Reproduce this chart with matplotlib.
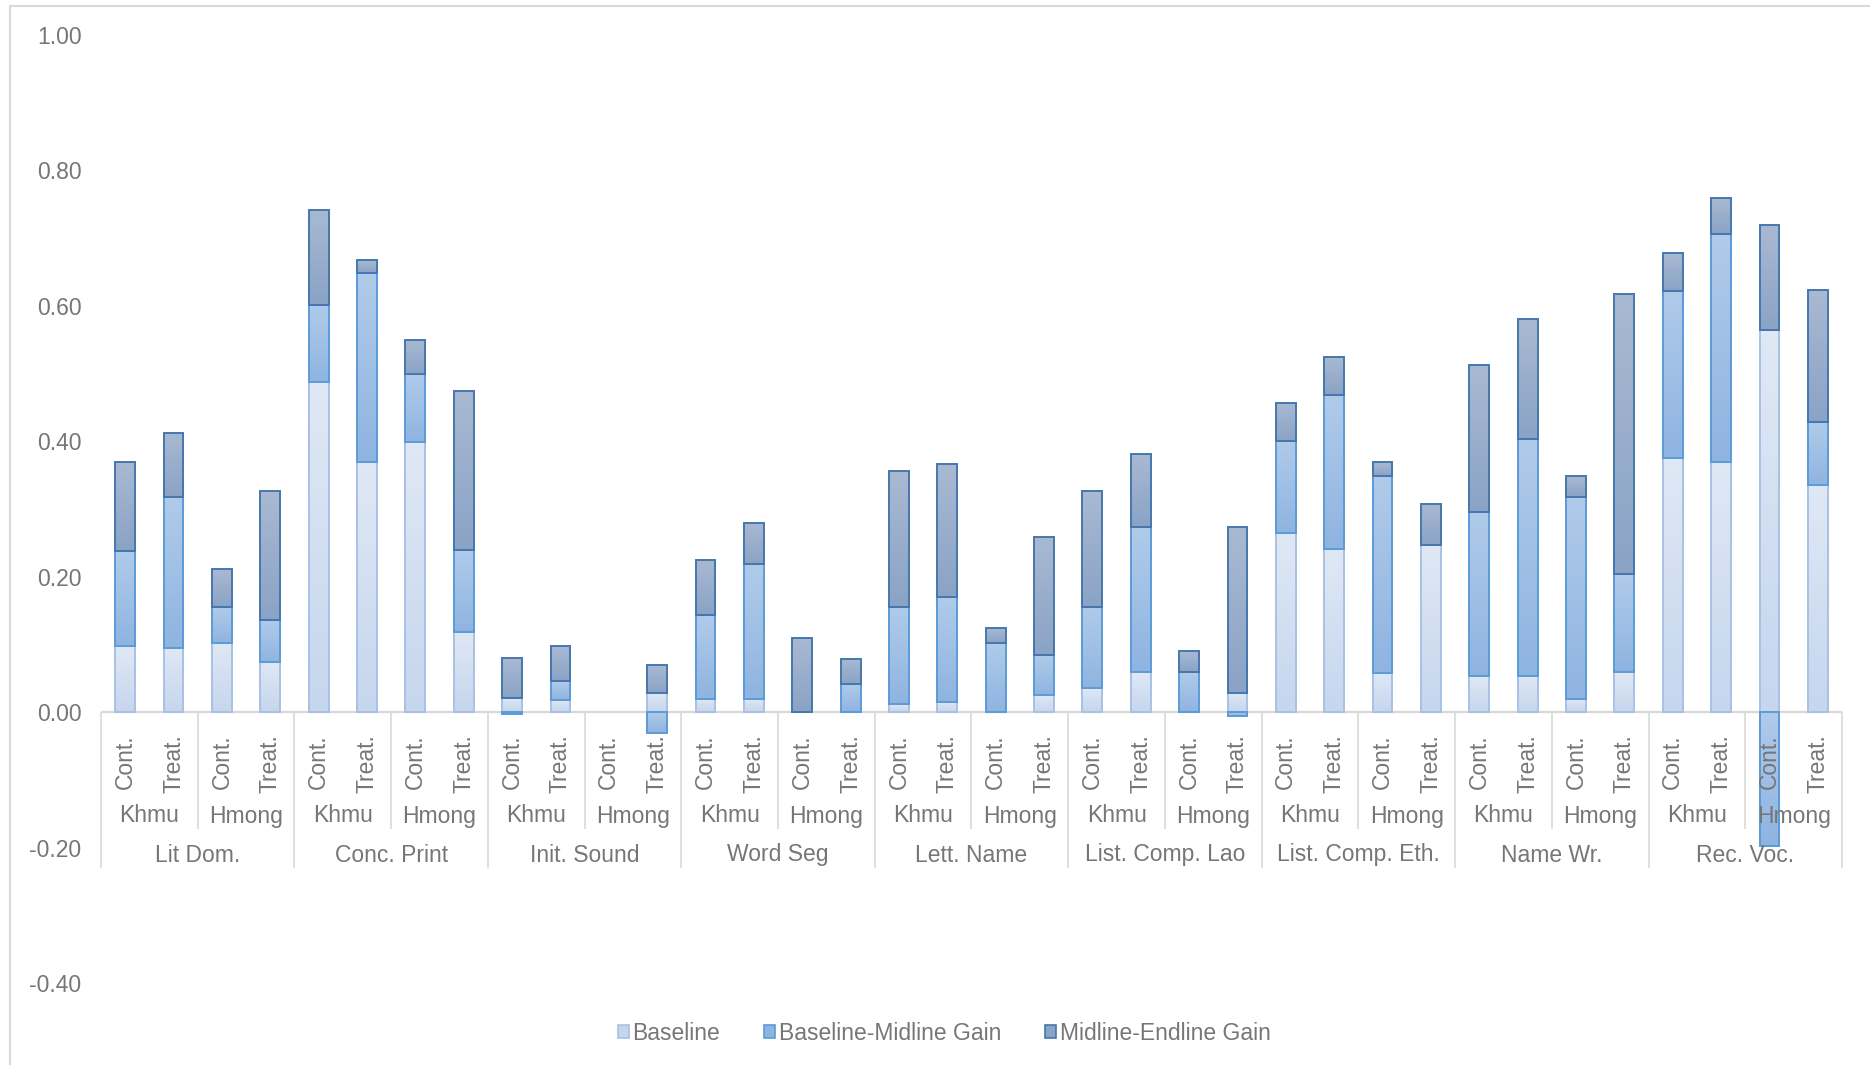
import numpy as np
import matplotlib
matplotlib.use('Agg')
import matplotlib.pyplot as plt
from matplotlib.patches import Patch, Rectangle
from matplotlib.colors import LinearSegmentedColormap
import matplotlib.transforms as mtransforms

# Literacy outcomes by domain, language group and arm
domains = ['Lit Dom.', 'Conc. Print', 'Init. Sound', 'Word Seg', 'Lett. Name',
           'List. Comp. Lao', 'List. Comp. Eth.', 'Name Wr.', 'Rec. Voc.']
languages = ['Khmu', 'Hmong']
arms = ['Cont.', 'Treat.']

# one value per bar, in order: Khmu Cont, Khmu Treat, Hmong Cont, Hmong Treat
baseline = [0.097, 0.095, 0.102, 0.074,
            0.488, 0.369, 0.399, 0.119,
            0.021, 0.018, 0.000, 0.029,
            0.020, 0.020, 0.000, 0.000,
            0.012, 0.015, 0.000, 0.025,
            0.036, 0.059, 0.000, 0.029,
            0.265, 0.241, 0.058, 0.247,
            0.053, 0.054, 0.019, 0.059,
            0.375, 0.370, 0.565, 0.336]
mid_gain = [0.141, 0.222, 0.053, 0.062,
            0.113, 0.279, 0.100, 0.121,
            -0.003, 0.028, 0.000, -0.031,
            0.123, 0.199, 0.000, 0.042,
            0.143, 0.155, 0.102, 0.060,
            0.120, 0.214, 0.059, -0.006,
            0.136, 0.227, 0.291, 0.000,
            0.243, 0.349, 0.299, 0.145,
            0.247, 0.336, -0.197, 0.092]
end_gain = [0.132, 0.095, 0.056, 0.190,
            0.141, 0.019, 0.051, 0.234,
            0.059, 0.051, 0.000, 0.041,
            0.082, 0.061, 0.110, 0.037,
            0.201, 0.197, 0.022, 0.174,
            0.170, 0.108, 0.031, 0.244,
            0.055, 0.057, 0.020, 0.061,
            0.216, 0.177, 0.031, 0.413,
            0.056, 0.053, 0.154, 0.196]

series = [('Baseline', baseline, '#dfe8f5', '#c6d6ee', '#a9c1e4'),
          ('Baseline-Midline Gain', mid_gain, '#b0cbea', '#8fb4e1', '#5b9bd5'),
          ('Midline-Endline Gain', end_gain, '#a9b9d2', '#8aa3c6', '#4677ad')]

W, H = 1870, 1065
TXT = '#767676'
LINE = '#d9d9d9'
FS = 16.5
plt.rcParams['font.family'] = ['Liberation Sans', 'DejaVu Sans']

fig = plt.figure(figsize=(W / 100, H / 100), dpi=100)
ax = fig.add_axes([101 / W, 1 - 983 / H, (1842 - 101) / W, (983 - 35) / H])

n = len(baseline)
x = np.arange(n)
pos_bottom = np.zeros(n)
neg_bottom = np.zeros(n)
grad = np.linspace(0, 1, 64).reshape(-1, 1)

for name, vals, top_c, bot_c, edge_c in series:
    vals = np.array(vals)
    # positives stack upward, negatives stack downward from zero
    bottoms = np.where(vals >= 0, pos_bottom, neg_bottom)
    bars = ax.bar(x, vals, 0.41, bottom=bottoms, facecolor='none',
                  edgecolor=edge_c, linewidth=1.4, zorder=3)
    cmap = LinearSegmentedColormap.from_list(name, [bot_c, top_c])
    # vertical gradient fill clipped to each bar segment
    for p in bars.patches:
        if p.get_height() == 0:
            p.set_visible(False)
            continue
        x0, y0 = p.get_x(), p.get_y()
        x1, y1 = x0 + p.get_width(), y0 + p.get_height()
        im = ax.imshow(grad, cmap=cmap, aspect='auto', origin='lower',
                       extent=(x0, x1, min(y0, y1), max(y0, y1)), zorder=2)
        im.set_clip_path(p)
    pos_bottom = pos_bottom + np.where(vals > 0, vals, 0)
    neg_bottom = neg_bottom + np.where(vals < 0, vals, 0)

ax.set_xlim(-0.5, n - 0.5)
ax.set_ylim(-0.4, 1.0)
ax.set_yticks(np.arange(-0.4, 1.01, 0.2))
ax.yaxis.set_major_formatter(plt.FuncFormatter(lambda v, _: f'{v:.2f}'))
ax.tick_params(axis='y', length=0, pad=14, labelsize=FS, labelcolor=TXT)
ax.set_xticks([])
for s in ax.spines.values():
    s.set_visible(False)
ax.axhline(0, color=LINE, linewidth=1.6, zorder=1)

# multi-level category axis
tr = mtransforms.blended_transform_factory(ax.transData, fig.transFigure)
fy = lambda py: 1 - py / H
for i in range(n):
    ax.text(i, fy(734), arms[i % 2], rotation=90, ha='center', va='top',
            fontsize=FS, color=TXT, transform=tr, zorder=5)
for j in range(n // 2):
    ax.text(2 * j + 0.5, fy(816), languages[j % 2], ha='center', va='center',
            fontsize=FS, color=TXT, transform=tr, zorder=5)
    if j % 2 == 1:
        ax.plot([2 * j - 0.5] * 2, [fy(713), fy(828)], color=LINE,
                linewidth=1.2, transform=tr, clip_on=False, zorder=1)
for k, d in enumerate(domains):
    ax.text(4 * k + 1.5, fy(855), d, ha='center', va='center',
            fontsize=FS, color=TXT, transform=tr)
for k in range(len(domains) + 1):
    ax.plot([4 * k - 0.5] * 2, [fy(713), fy(867)], color=LINE,
            linewidth=1.2, transform=tr, clip_on=False, zorder=1)

# chart area border
fig.patches.append(Rectangle((10 / W, -0.01), 1.0, fy(6) + 0.01,
                             transform=fig.transFigure, fill=False,
                             edgecolor=LINE, linewidth=1.5))

handles = [Patch(facecolor=c[3], edgecolor=c[4], linewidth=1.2, label=c[0])
           for c in series]
fig.legend(handles=handles, loc='center', ncol=3, frameon=False,
           bbox_to_anchor=(944 / W, fy(1033)), fontsize=FS,
           labelcolor=TXT, handlelength=0.5, handleheight=0.5,
           handletextpad=0.15, columnspacing=1.9)

fig.savefig('out.png', dpi=100)
